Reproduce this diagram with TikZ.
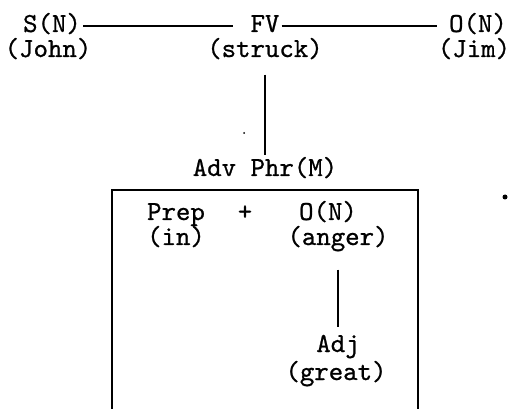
\documentclass[tikz,border=0pt]{standalone}
\usepackage{fontspec}
\newfontfamily\typewriter{lmmono10-regular.otf}[FakeBold=0.8]
\usepackage{tikz}

\begin{document}
\begin{tikzpicture}[x=1pt,y=-1pt,
  word/.style={font=\typewriter\fontsize{27.5}{27.5}\selectfont,anchor=base,inner sep=2pt,text height=16pt,text depth=3.5pt},
  link/.style={line width=2pt}]
  \useasboundingbox (0,0) rectangle (512,409);
  % Clause
  \node[word] (sn) at (52,32) {S(N)};
  \node[word] (john) at (48,57) {(John)};
  \node[word] (fv) at (265,32) {FV};
  \node[word] (struck) at (265,57) {(struck)};
  \node[word] (on) at (478,32) {O(N)};
  \node[word] (jim) at (474,57) {(Jim)};
  \draw[link,shorten >=15pt] (sn.east) -- (fv.west);
  \draw[link,shorten >=10pt] (fv.east) -- (on.west);
  % Adverbial phrase
  \node[word] (adv) at (265,176) {Adv Phr(M)};
  \draw[link,shorten <=12pt,shorten >=3pt] (struck.south) -- (adv.north);
  \draw[link,line width=2.4pt] (112,409) |- (418,190) -- (418,409);
  \node[word] (prep) at (176,220) {Prep};
  \node[word] (in) at (176,245) {(in)};
  \node[word] (plus) at (245,220) {+};
  \node[word] (obj) at (328,220) {O(N)};
  \node[word] (anger) at (338,245) {(anger)};
  \node[word] (adj) at (338,352) {Adj};
  \node[word] (great) at (336,380) {(great)};
  \draw[link,shorten <=19pt,shorten >=7pt] (anger.south) -- (adj.north);
  % specks
  \fill (505,197) circle (2.5pt);
  \fill (244,133) circle (1pt);
\end{tikzpicture}
\end{document}
